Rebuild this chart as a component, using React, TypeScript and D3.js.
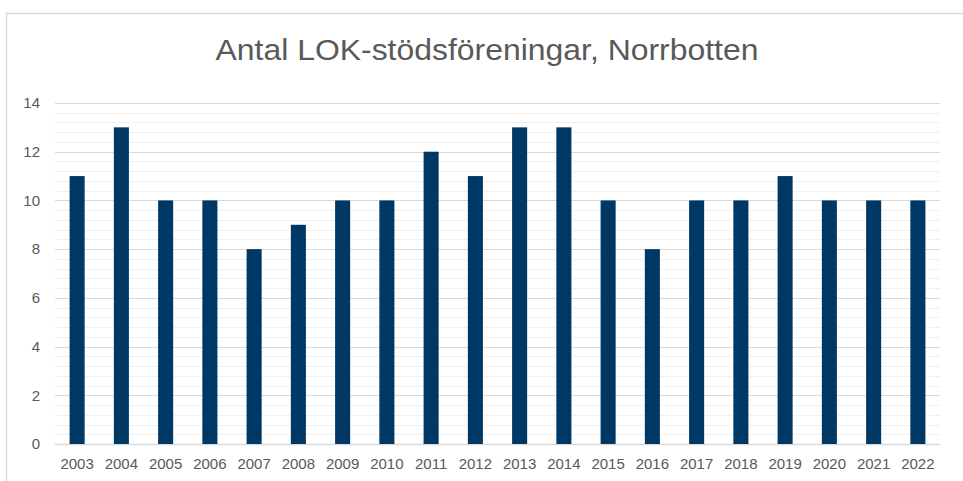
import { useEffect, useRef } from "react"
import * as d3 from "d3"

const YEARS = [
  "2003", "2004", "2005", "2006", "2007", "2008", "2009", "2010", "2011", "2012",
  "2013", "2014", "2015", "2016", "2017", "2018", "2019", "2020", "2021", "2022",
]
const COUNTS = [11, 13, 10, 10, 8, 9, 10, 10, 12, 11, 13, 13, 10, 8, 10, 10, 11, 10, 10, 10]
const Y_TICKS = [0, 2, 4, 6, 8, 10, 12, 14]
const TITLE = "Antal LOK-stödsföreningar, Norrbotten"

const W = 963
const H = 481

export default function App() {
  const svgRef = useRef<SVGSVGElement>(null)

  useEffect(() => {
    const svg = d3.select(svgRef.current)
    svg.selectAll("*").remove()

    const left = 55, right = 940, top = 103, bottom = 444
    const font = "'Liberation Sans', Arial, sans-serif"

    // chart border
    svg.append("rect")
      .attr("x", 6.5).attr("y", 13.5)
      .attr("width", W + 10).attr("height", H)
      .attr("fill", "white")
      .attr("stroke", "#d9d9d9")
      .attr("stroke-width", 1.5)

    const x = d3.scaleBand<string>()
      .domain(YEARS)
      .range([left, right])
      .paddingInner(0.66)
      .paddingOuter(0.33)
    const y = d3.scaleLinear().domain([0, 14]).range([bottom, top])

    // minor gridlines
    const minor = d3.range(0, 14.01, 0.4).filter(v => Math.abs(v / 2 - Math.round(v / 2)) > 0.01)
    svg.append("g").selectAll("line")
      .data(minor)
      .join("line")
      .attr("x1", left).attr("x2", right)
      .attr("y1", d => Math.round(y(d)) + 0.5)
      .attr("y2", d => Math.round(y(d)) + 0.5)
      .attr("stroke", "#f0f0f0")
      .attr("stroke-width", 1)

    // major gridlines
    svg.append("g").selectAll("line")
      .data(Y_TICKS)
      .join("line")
      .attr("x1", left).attr("x2", right)
      .attr("y1", d => Math.round(y(d)) + 0.5)
      .attr("y2", d => Math.round(y(d)) + 0.5)
      .attr("stroke", "#d9d9d9")
      .attr("stroke-width", d => d === 0 ? 1.5 : 1.2)

    // bars
    svg.append("g").selectAll("rect")
      .data(COUNTS)
      .join("rect")
      .attr("x", (d, i) => x(YEARS[i])!)
      .attr("width", x.bandwidth())
      .attr("y", d => y(d))
      .attr("height", d => bottom - y(d))
      .attr("fill", "#003865")

    // y labels
    svg.append("g").selectAll("text")
      .data(Y_TICKS)
      .join("text")
      .attr("x", 40)
      .attr("y", d => y(d))
      .attr("dy", "0.35em")
      .attr("text-anchor", "end")
      .attr("font-family", font)
      .attr("font-size", 15)
      .attr("fill", "#595959")
      .text(d => d)

    // x labels
    svg.append("g").selectAll("text")
      .data(YEARS)
      .join("text")
      .attr("x", d => x(d)! + x.bandwidth() / 2)
      .attr("y", 469)
      .attr("text-anchor", "middle")
      .attr("font-family", font)
      .attr("font-size", 15)
      .attr("fill", "#595959")
      .text(d => d)

    svg.append("text")
      .attr("x", 487)
      .attr("y", 60)
      .attr("text-anchor", "middle")
      .attr("font-family", font)
      .attr("font-size", 29)
      .attr("textLength", 543)
      .attr("lengthAdjust", "spacingAndGlyphs")
      .attr("fill", "#595959")
      .text(TITLE)
  }, [])

  return (
    <div style={{ position: "fixed", left: 0, top: 0, width: W, height: H, overflow: "hidden", background: "white" }}>
      <svg ref={svgRef} width={W} height={H} />
    </div>
  )
}
